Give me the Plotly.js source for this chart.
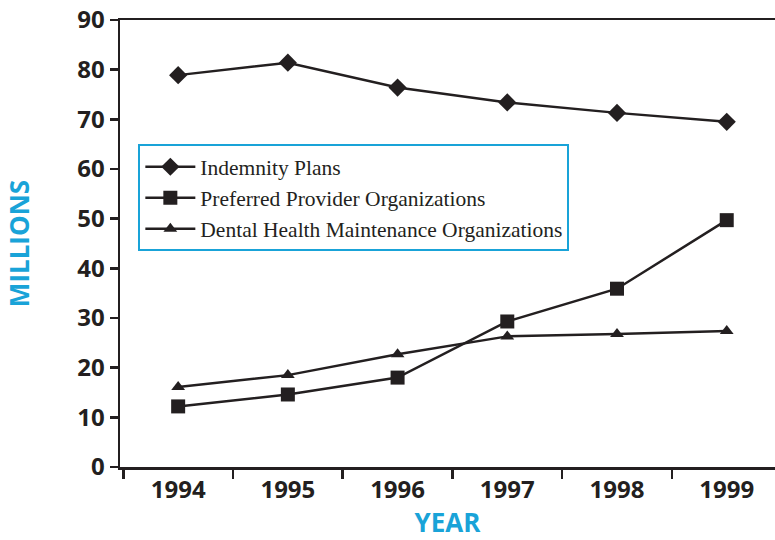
<!DOCTYPE html>
<html>
<head>
<meta charset="utf-8">
<script src="https://cdn.plot.ly/plotly-3.0.1.min.js"></script>
<style>html,body{margin:0;padding:0;background:#fff;}#chart{width:775px;height:540px;}</style>
</head>
<body>
<div id="chart"></div>
<script>
const years = ['1994', '1995', '1996', '1997', '1998', '1999'];
const indemnity = [78.9, 81.4, 76.4, 73.4, 71.3, 69.5];
const ppo = [12.2, 14.6, 18.0, 29.3, 35.9, 49.7];
const dhmo = [16.1, 18.5, 22.7, 26.3, 26.8, 27.4];
const seriesNames = ['Indemnity Plans', 'Preferred Provider Organizations', 'Dental Health Maintenance Organizations'];
const yTicks = [0, 10, 20, 30, 40, 50, 60, 70, 80, 90];

const ink = '#231f20';
const cyan = '#19a3d8';

function trace(y, name, symbol, size) {
  return {
    x: years, y: y, name: name, type: 'scatter', mode: 'lines+markers',
    line: {color: ink, width: 2.5},
    marker: {symbol: symbol, size: size, color: ink, line: {width: 0}}
  };
}

const data = [
  trace(indemnity, seriesNames[0], 'diamond', 14),
  trace(ppo, seriesNames[1], 'square', 14),
  trace(dhmo, seriesNames[2], 'triangle-up', 12)
];

const layout = {
  width: 775, height: 540,
  margin: {l: 120, r: 0, t: 20, b: 73},
  paper_bgcolor: '#fff', plot_bgcolor: '#fff',
  showlegend: true,
  legend: {
    x: 0.028, y: 0.722, xanchor: 'left', yanchor: 'top',
    bgcolor: '#fff', bordercolor: cyan, borderwidth: 2,
    font: {family: 'Liberation Serif, serif', size: 21.5, color: ink},
    itemwidth: 50, tracegroupgap: 0
  },
  xaxis: {
    type: 'category', categoryorder: 'array', categoryarray: years,
    range: [-0.53, 5.44],
    showline: true, linecolor: ink, linewidth: 2.5, mirror: true,
    ticks: 'outside', tickson: 'boundaries', ticklen: 9, tickwidth: 2.5, tickcolor: ink,
    showgrid: false, zeroline: false,
    tickfont: {family: 'Open Sans, sans-serif', size: 24, color: ink, weight: 'bold'},
    title: {text: 'YEAR', font: {family: 'Open Sans, sans-serif', size: 26, color: cyan, weight: 'bold'}, standoff: 12}
  },
  yaxis: {
    range: [0, 90],
    tickvals: yTicks,
    showline: true, linecolor: ink, linewidth: 2.5,
    ticks: 'outside', ticklen: 8, tickwidth: 2.5, tickcolor: ink,
    showgrid: false, zeroline: false,
    tickfont: {family: 'Open Sans, sans-serif', size: 24, color: ink, weight: 'bold'},
    title: {text: 'MILLIONS', font: {family: 'Open Sans, sans-serif', size: 26, color: cyan, weight: 'bold'}, standoff: 40}
  }
};

Plotly.newPlot('chart', data, layout, {displayModeBar: false, staticPlot: true});
</script>
</body>
</html>
